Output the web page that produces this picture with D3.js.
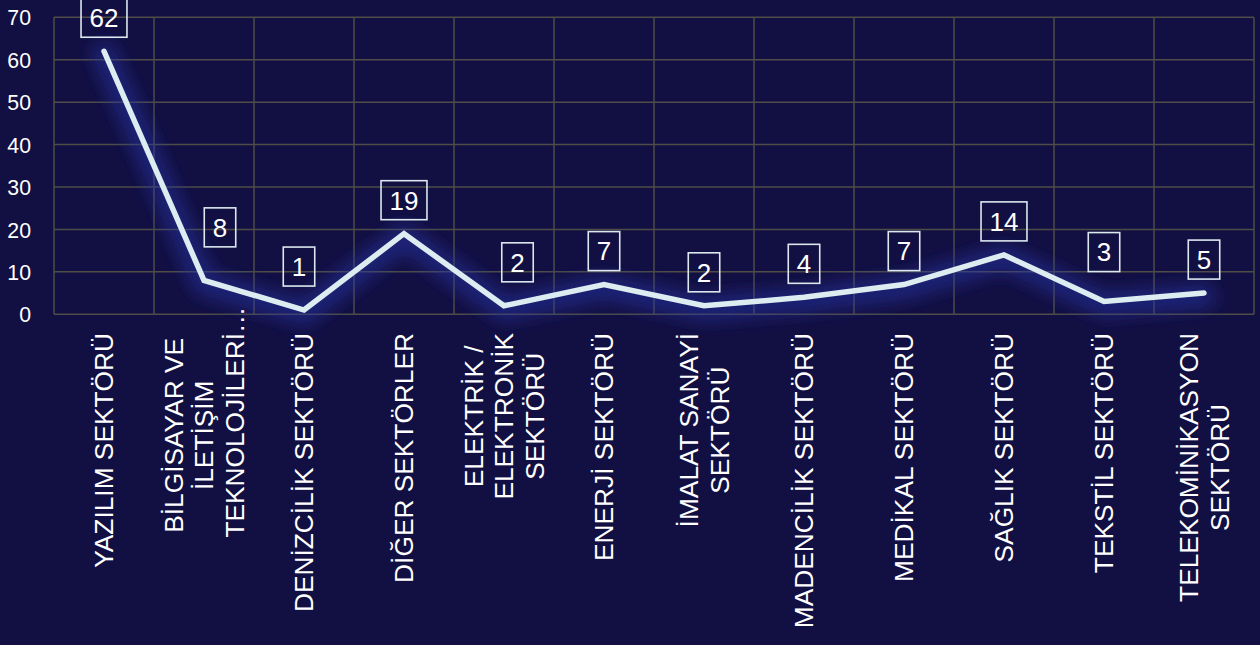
<!DOCTYPE html>
<html>
<head>
<meta charset="utf-8">
<script src="https://cdn.jsdelivr.net/npm/d3@7/dist/d3.min.js"></script>
<style>
  html, body { margin: 0; padding: 0; background: #120f42; }
  svg { display: block; }
  text { font-family: "Liberation Sans", Arial, sans-serif; fill: #ffffff; }
</style>
</head>
<body>
<svg id="chart" width="1260" height="645"></svg>
<script>
// ---- data ----
const categories = [
  "YAZILIM SEKTÖRÜ",
  "BİLGİSAYAR VE\nİLETİŞİM\nTEKNOLOJİLERİ…",
  "DENİZCİLİK SEKTÖRÜ",
  "DİĞER SEKTÖRLER",
  "ELEKTRİK /\nELEKTRONİK\nSEKTÖRÜ",
  "ENERJİ SEKTÖRÜ",
  "İMALAT SANAYİ\nSEKTÖRÜ",
  "MADENCİLİK SEKTÖRÜ",
  "MEDİKAL SEKTÖRÜ",
  "SAĞLIK SEKTÖRÜ",
  "TEKSTİL SEKTÖRÜ",
  "TELEKOMİNİKASYON\nSEKTÖRÜ"
];
const values = [62, 8, 1, 19, 2, 7, 2, 4, 7, 14, 3, 5];
const yTicks = [0, 10, 20, 30, 40, 50, 60, 70];

// ---- layout ----
const W = 1260, H = 645;
const plot = { left: 54, right: 1254, top: 17.3, bottom: 314.3 };
// manual label nudges (as in the source chart), in px
const labelNudgeX = [0, 16, -5, 0, 13.5, 0, 0, 0, 0, 0, 0, 0];
const labelNudgeY = [0, -19.5, -10, 0, -10, 0, 0, 0, 0, 0, -16, 0];

const svg = d3.select("#chart");
svg.append("rect").attr("width", W).attr("height", H).attr("fill", "#120f42");

const x = d3.scaleBand().domain(categories).range([plot.left, plot.right]).padding(0);
const y = d3.scaleLinear().domain([0, 70]).range([plot.bottom, plot.top]);
const cx = c => x(c) + x.bandwidth() / 2;

// defs: glow
const defs = svg.append("defs");
const f = defs.append("filter").attr("id", "glow")
  .attr("filterUnits", "userSpaceOnUse")
  .attr("x", 0).attr("y", 0).attr("width", W).attr("height", H);
f.append("feGaussianBlur").attr("stdDeviation", 9);

// grid
const grid = svg.append("g");
grid.selectAll("line.h").data(yTicks).join("line")
  .attr("x1", plot.left).attr("x2", plot.right)
  .attr("y1", d => y(d)).attr("y2", d => y(d))
  .attr("stroke", "#4e4d47").attr("stroke-width", 1.5);
const vEdges = categories.map(c => x(c)).concat([plot.right]);
grid.selectAll("line.v").data(vEdges).join("line")
  .attr("x1", d => d).attr("x2", d => d)
  .attr("y1", plot.top).attr("y2", plot.bottom)
  .attr("stroke", "#4e4d47").attr("stroke-width", 1.5);

// y axis labels
const yAxis = d3.axisLeft(y).tickValues(yTicks).tickSize(0).tickPadding(0);
const ya = svg.append("g").attr("transform", `translate(31,0)`).call(yAxis);
ya.select(".domain").remove();
ya.selectAll("text").attr("font-size", "21.3px")
  .attr("font-family", '"Liberation Sans", Arial, sans-serif')
  .attr("fill", "#ffffff").attr("dy", "0.36em");

// line
const line = d3.line().x((d, i) => cx(categories[i])).y(d => y(d));
svg.append("path").datum(values)
  .attr("d", line)
  .attr("transform", "translate(0,3)")
  .attr("fill", "none").attr("stroke", "#2535a8").attr("stroke-width", 24)
  .attr("stroke-opacity", 0.55).attr("stroke-linecap", "round")
  .attr("filter", "url(#glow)");
svg.append("path").datum(values)
  .attr("d", line)
  .attr("fill", "none").attr("stroke", "#dcecf0").attr("stroke-width", 5.5)
  .attr("stroke-linejoin", "miter").attr("stroke-linecap", "round");

// data labels
const lbl = svg.append("g").selectAll("g").data(values).join("g")
  .attr("transform", (d, i) => `translate(${cx(categories[i]) + labelNudgeX[i]},${y(d) - 33.5 + labelNudgeY[i]})`);
lbl.append("text")
  .attr("text-anchor", "middle").attr("dy", "0.36em")
  .attr("font-size", "26px")
  .text(d => d);
lbl.each(function() {
  const g = d3.select(this);
  const w = g.select("text").node().getComputedTextLength() + 17;
  g.insert("rect", "text")
    .attr("x", -w / 2).attr("y", -19.5).attr("width", w).attr("height", 39)
    .attr("fill", "none").attr("stroke", "#dbe8ee").attr("stroke-width", 1.6);
});

// category labels (rotated, wrapped)
const fs = 26.3, lineGap = 30.5, topY = 333;
const catG = svg.append("g");
categories.forEach(c => {
  const lines = c.split("\n");
  const g = catG.append("g");
  const widths = lines.map(t => {
    const tmp = g.append("text").attr("font-size", fs + "px").text(t.replace(/…$/, ""));
    const w = tmp.node().getComputedTextLength();
    tmp.remove();
    return w;
  });
  const maxW = d3.max(widths);
  const center = topY + maxW / 2;
  const n = lines.length;
  lines.forEach((t, k) => {
    const lx = cx(c) + (k - (n - 1) / 2) * lineGap;
    g.append("text")
      .attr("font-size", fs + "px")
      .attr("text-anchor", "start")
      .attr("transform", `translate(${lx},${center + widths[k] / 2}) rotate(-90)`)
      .attr("dy", "0.36em")
      .text(t);
  });
});
</script>
</body>
</html>
